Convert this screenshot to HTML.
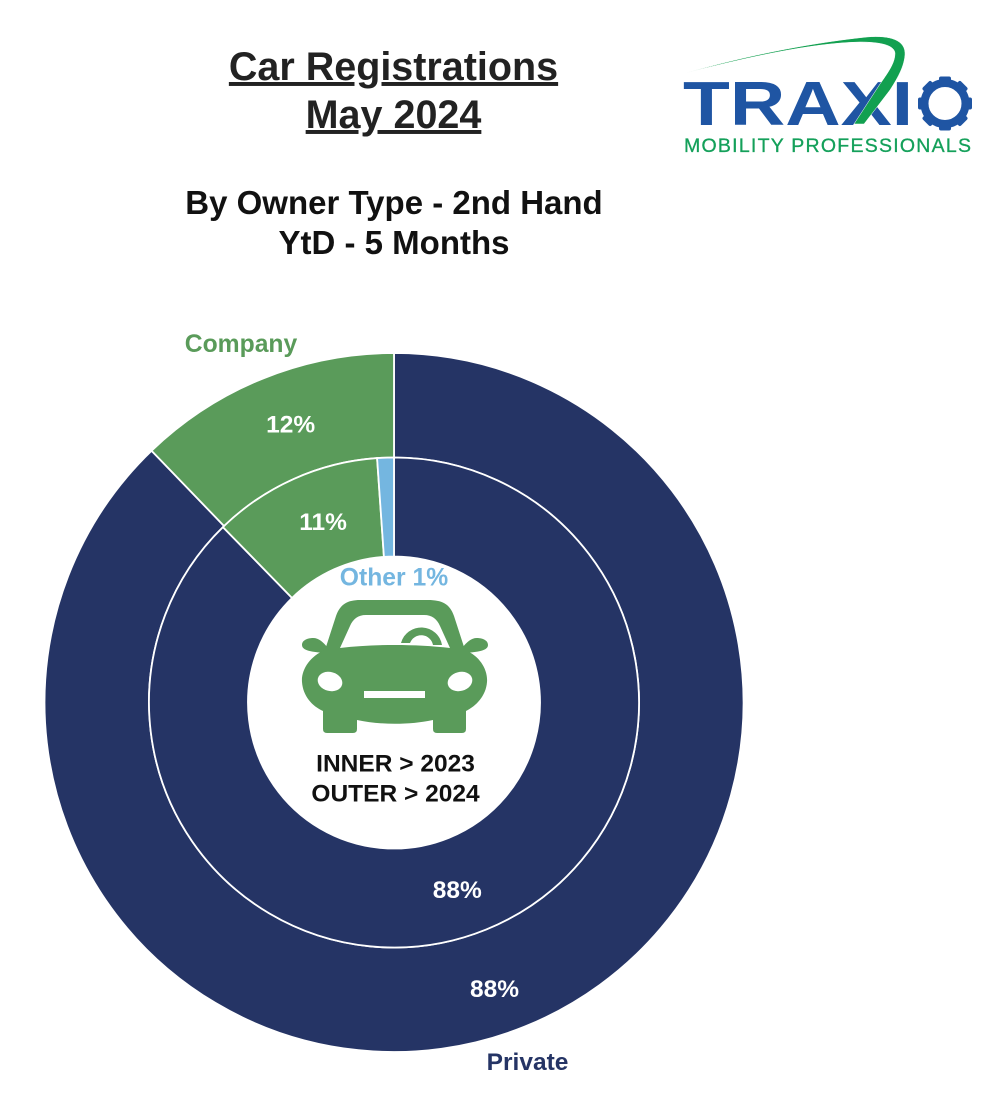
<!DOCTYPE html>
<html lang="en">
<head>
<meta charset="utf-8">
<title>Car Registrations May 2024</title>
<style>
html,body{margin:0;padding:0;background:#fff}
#page{position:relative;width:1000px;height:1106px;overflow:hidden;background:#fff}
svg{position:absolute;left:0;top:0;display:block}
text{font-family:"Liberation Sans",sans-serif;font-weight:700}
</style>
</head>
<body>
<div id="page">
<svg id="chart" width="1000" height="1106" viewBox="0 0 1000 1106">
  <g id="rings"></g>
  <g id="labels"></g>

  <text x="393.5" y="80" text-anchor="middle" font-size="39.5" fill="#222" text-decoration="underline">Car Registrations</text>
  <text x="393.5" y="128" text-anchor="middle" font-size="39.5" fill="#222" text-decoration="underline">May 2024</text>
  <text x="394" y="214" text-anchor="middle" font-size="33" fill="#111">By Owner Type - 2nd Hand</text>
  <text x="394" y="254" text-anchor="middle" font-size="33" fill="#111">YtD - 5 Months</text>

  <g>
    <text x="683" y="125" font-size="62" fill="#1f55a3" textLength="230" lengthAdjust="spacingAndGlyphs">TRAXI</text>
    <path d="M686 73 C730 60 800 44 867 37 C890 35 906 40 905 55 C904 66 899 76 890 90 L864 124 L854 124 L880 84 C890 70 895 62 895 53 C894 45 880 42 860 42 C810 43 745 58 686 73 Z" fill="#12a050" stroke="#fff" stroke-width="0.5"/>
    <circle cx="945" cy="103.5" r="20.5" fill="none" stroke="#1f55a3" stroke-width="8"/>
    <g id="gear" fill="#1f55a3"></g>
    <text x="684" y="152" font-size="19.5" fill="#14a05a" textLength="287" lengthAdjust="spacing" style="font-weight:400" stroke="#14a05a" stroke-width="0.3">MOBILITY PROFESSIONALS</text>
  </g>

  <g>
    <path d="M302 645 C302 640 308 638 313 638 C319 638 323 642 328 648 L324 653 C318 652 302 652 302 645 Z" fill="#5a9b5a"/>
    <path d="M488 645 C488 640 482 638 477 638 C471 638 467 642 462 648 L466 653 C472 652 488 652 488 645 Z" fill="#5a9b5a"/>
    <path d="M325 650 L336 616 C340 604 348 600 360 600 L428 600 C442 600 450 604 454 616 L465 650 C480 656 488 670 487 682 C486 696 476 706 466 711 L466 729 Q466 733 462 733 L437 733 Q433 733 433 729 L433 720 C410 725 380 725 357 720 L357 729 Q357 733 353 733 L327 733 Q323 733 323 729 L323 711 C312 706 303 696 302 682 C301 670 310 656 325 650 Z" fill="#5a9b5a"/>
    <path d="M340 648 L350 626 C353 619 358 615 366 615 L424 615 C432 615 437 619 440 626 L450 648 C415 644 375 644 340 648 Z" fill="#fff"/>
    <path d="M401 643 A21 21 0 0 1 442 645 L433 645 A12 12 0 0 0 410 643 Z" fill="#5a9b5a"/>
    <ellipse cx="330" cy="681.5" rx="12.5" ry="9.5" transform="rotate(15 330 681.5)" fill="#fff"/>
    <ellipse cx="460" cy="681.5" rx="12.5" ry="9.5" transform="rotate(-15 460 681.5)" fill="#fff"/>
    <rect x="364" y="691" width="61" height="7" fill="#fff"/>
  </g>

  <text x="395.5" y="771.5" text-anchor="middle" font-size="24.5" fill="#111">INNER &gt; 2023</text>
  <text x="395.5" y="801.5" text-anchor="middle" font-size="24.5" fill="#111">OUTER &gt; 2024</text>
</svg>
</div>
<script>
var categories = ['Private', 'Company', 'Other'];
var colors = ['#253465', '#5a9b5a', '#74b6e0'];
var outer2024 = [87.8, 12.2, 0];
var inner2023 = [87.7, 11.2, 1.1];
var printedOuter = ['88%', '12%', ''];
var printedInner = ['88%', '11%', ''];

var NS = 'http://www.w3.org/2000/svg';
var cx = 394, cy = 702.5;
var rOuter = 349.5, rMid = 245, rHole = 146;

function angleOf(v, total) { return v / total * Math.PI * 2; }
function pt(r, a) { return [cx + r * Math.sin(a), cy - r * Math.cos(a)]; }

function wedge(r0, r1, a0, a1) {
  var large = (a1 - a0) > Math.PI ? 1 : 0;
  var p0 = pt(r1, a0), p1 = pt(r1, a1), p2 = pt(r0, a1), p3 = pt(r0, a0);
  return 'M' + p0[0] + ' ' + p0[1] +
    ' A' + r1 + ' ' + r1 + ' 0 ' + large + ' 1 ' + p1[0] + ' ' + p1[1] +
    ' L' + p2[0] + ' ' + p2[1] +
    ' A' + r0 + ' ' + r0 + ' 0 ' + large + ' 0 ' + p3[0] + ' ' + p3[1] + ' Z';
}

function drawRing(values, r0, r1, ringName) {
  var g = document.getElementById('rings');
  var total = values.reduce(function (s, v) { return s + v; }, 0);
  var a = 0;
  values.forEach(function (v, i) {
    var a1 = a + angleOf(v, total);
    if (v > 0) {
      var p = document.createElementNS(NS, 'path');
      p.setAttribute('d', wedge(r0, r1, a, a1));
      p.setAttribute('fill', colors[i]);
      p.setAttribute('stroke', '#fff');
      p.setAttribute('stroke-width', '1.8');
      
      
      g.appendChild(p);
    }
    a = a1;
  });
}

function label(x, y, str, size, fill, name) {
  var t = document.createElementNS(NS, 'text');
  t.setAttribute('x', x);
  t.setAttribute('y', y);
  t.setAttribute('text-anchor', 'middle');
  t.setAttribute('font-size', size);
  t.setAttribute('fill', fill);
  t.textContent = str;
  
  
  document.getElementById('labels').appendChild(t);
}

function midAngles(values) {
  var total = values.reduce(function (s, v) { return s + v; }, 0);
  var a = 0, out = [];
  values.forEach(function (v) {
    var d = angleOf(v, total);
    out.push(a + d / 2);
    a += d;
  });
  return out;
}

drawRing(outer2024, rMid, rOuter, 'outer-ring');
drawRing(inner2023, rHole, rMid, 'inner-ring');

var outerMid = midAngles(outer2024);
var innerMid = midAngles(inner2023);
var pO0 = pt(303, outerMid[0] + 0.045), pO1 = pt(297, outerMid[1] + 0.028);
var pI0 = pt(197.5, innerMid[0] + 0.06), pI1 = pt(194.5, innerMid[1] + 0.048);
label(pO0[0], pO0[1] + 8.5, printedOuter[0], 24.5, '#fff', 'outer-value-private');
label(pO1[0], pO1[1] + 8.5, printedOuter[1], 24.5, '#fff', 'outer-value-company');
label(pI0[0], pI0[1] + 8.5, printedInner[0], 24.5, '#fff', 'inner-value-private');
label(pI1[0], pI1[1] + 8.5, printedInner[1], 24.5, '#fff', 'inner-value-company');

label(241, 352, categories[1], 24.7, colors[1], 'category-label-company');
label(527.5, 1070, categories[0], 24.5, colors[0], 'category-label-private');
label(394, 585.5, categories[2] + ' 1%', 24.7, colors[2], 'category-label-other');

var gear = document.getElementById('gear');
var teeth = [0, 45, 90, 135, 180, 225, 270, 315];
teeth.forEach(function (deg, i) {
  var r = document.createElementNS(NS, 'rect');
  r.setAttribute('x', 939);
  r.setAttribute('y', 76.5);
  r.setAttribute('width', 12);
  r.setAttribute('height', 8);
  r.setAttribute('rx', 2);
  r.setAttribute('transform', 'rotate(' + deg + ' 945 103.5)');
  
  
  gear.appendChild(r);
});
</script>
</body>
</html>
